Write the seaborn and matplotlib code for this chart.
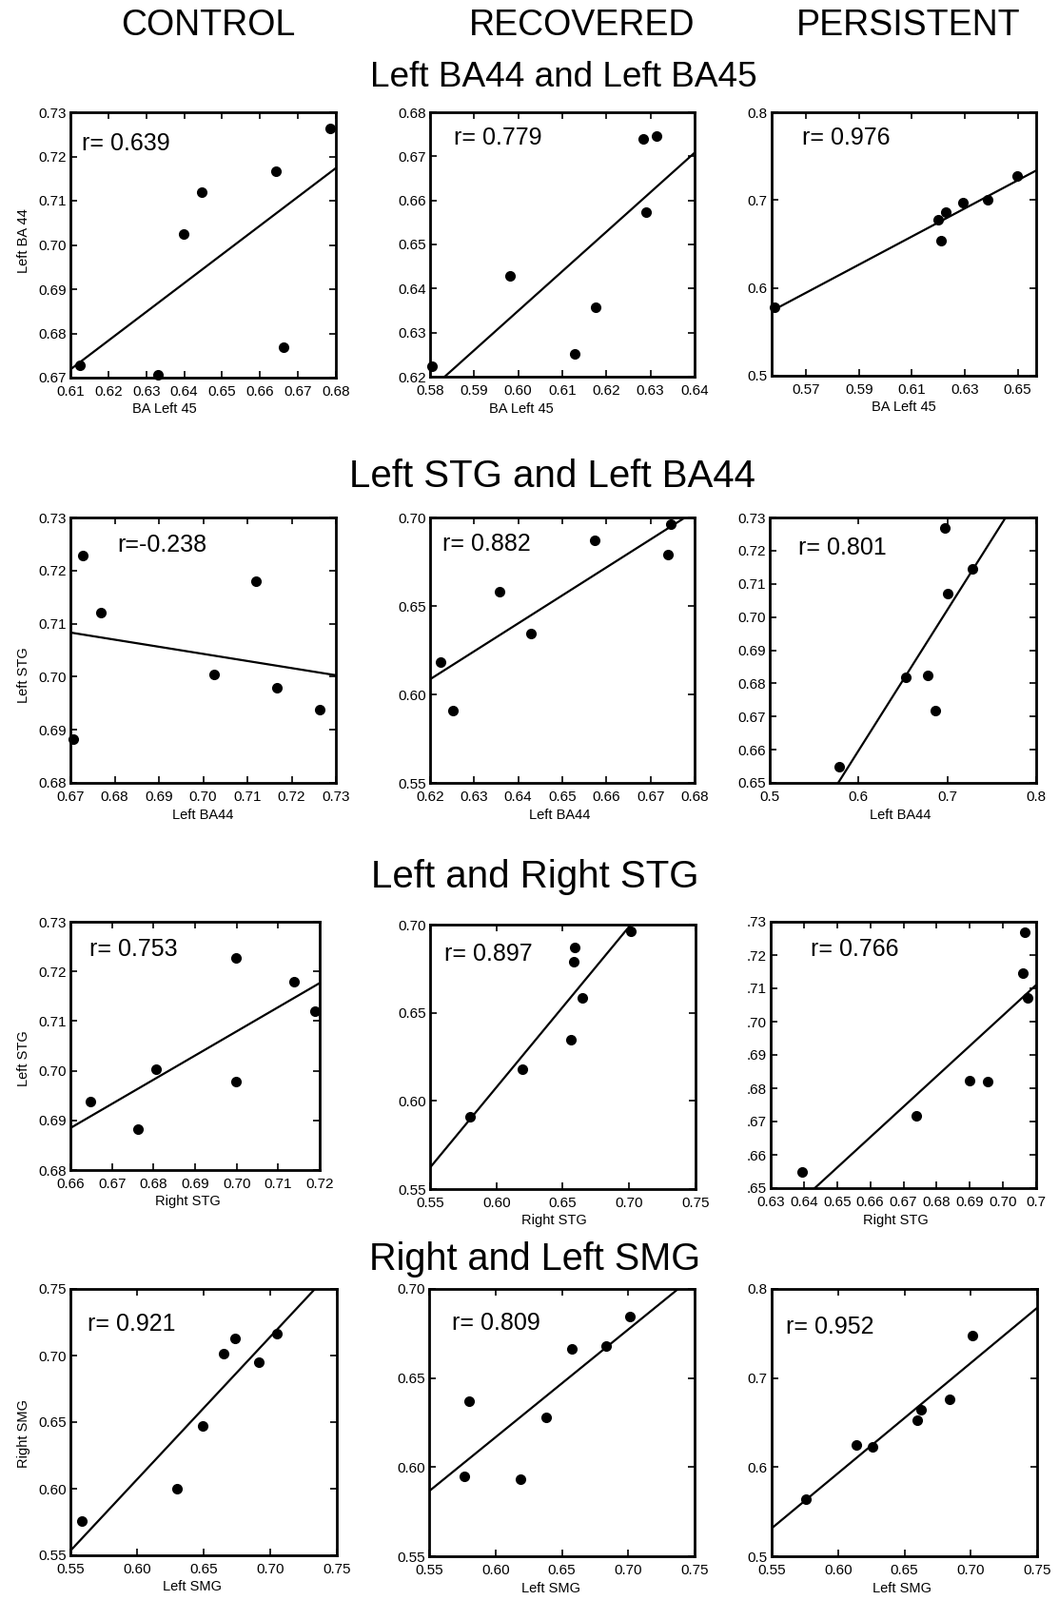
import matplotlib
matplotlib.use("Agg")
import matplotlib.pyplot as plt
import seaborn as sns

# values, one entry per subject
# (BA and STG lists share the subject order inside a group)
ctrl_ba45 = [0.6125, 0.6332, 0.6399, 0.6445, 0.6641, 0.6661, 0.6785]
ctrl_ba44 = [0.6729, 0.6706, 0.7025, 0.7119, 0.7166, 0.6769, 0.7264]
ctrl_lstg = [0.7228, 0.6882, 0.7004, 0.7180, 0.6979, 0.7120, 0.6938]
ctrl_rstg = [0.6998, 0.6763, 0.6807, 0.7139, 0.6998, 0.7188, 0.6647]
ctrl_lsmg = [0.5583, 0.6299, 0.6494, 0.6653, 0.6737, 0.6915, 0.7053]
ctrl_rsmg = [0.5755, 0.6000, 0.6471, 0.7017, 0.7131, 0.6948, 0.7164]

rec_ba45 = [0.5804, 0.5982, 0.6127, 0.6176, 0.6283, 0.6290, 0.6314]
rec_ba44 = [0.6223, 0.6429, 0.6252, 0.6358, 0.6740, 0.6574, 0.6746]
rec_lstg = [0.6182, 0.6345, 0.5911, 0.6582, 0.6788, 0.6869, 0.6960]
rec_rstg = [0.6192, 0.6562, 0.5803, 0.6650, 0.6581, 0.6593, 0.7016]
rec_lsmg = [0.5763, 0.5803, 0.6186, 0.6384, 0.6575, 0.6831, 0.7010]
rec_rsmg = [0.5950, 0.6372, 0.5931, 0.6279, 0.6662, 0.6680, 0.6843]

pers_ba45 = [0.5579, 0.6200, 0.6212, 0.6230, 0.6293, 0.6385, 0.6498]
pers_ba44 = [0.5778, 0.6780, 0.6537, 0.6861, 0.6972, 0.7004, 0.7277]
pers_lstg = [0.6548, 0.6823, 0.6819, 0.6717, 0.7268, 0.7071, 0.7145]
pers_rstg = [0.6395, 0.6900, 0.6955, 0.6740, 0.7067, 0.7074, 0.7060]
pers_lsmg = [0.5760, 0.6138, 0.6262, 0.6599, 0.6628, 0.6838, 0.7015]
pers_rsmg = [0.5644, 0.6253, 0.6231, 0.6525, 0.6639, 0.6765, 0.7474]

groups = ["CONTROL", "RECOVERED", "PERSISTENT"]
row_titles = ["Left BA44 and Left BA45", "Left STG and Left BA44",
              "Left and Right STG", "Right and Left SMG"]
r_labels = [["r= 0.639", "r= 0.779", "r= 0.976"],
            ["r=-0.238", "r= 0.882", "r= 0.801"],
            ["r= 0.753", "r= 0.897", "r= 0.766"],
            ["r= 0.921", "r= 0.809", "r= 0.952"]]

# tick values
t_61_68 = [0.61, 0.62, 0.63, 0.64, 0.65, 0.66, 0.67, 0.68]
t_67_73 = [0.67, 0.68, 0.69, 0.70, 0.71, 0.72, 0.73]
t_58_64 = [0.58, 0.59, 0.60, 0.61, 0.62, 0.63, 0.64]
t_62_68 = [0.62, 0.63, 0.64, 0.65, 0.66, 0.67, 0.68]
t_57_65 = [0.57, 0.59, 0.61, 0.63, 0.65]
t_5_8 = [0.5, 0.6, 0.7, 0.8]
t_68_73 = [0.68, 0.69, 0.70, 0.71, 0.72, 0.73]
t_55_70 = [0.55, 0.60, 0.65, 0.70]
t_65_73 = [0.65, 0.66, 0.67, 0.68, 0.69, 0.70, 0.71, 0.72, 0.73]
t_66_72 = [0.66, 0.67, 0.68, 0.69, 0.70, 0.71, 0.72]
t_55_75 = [0.55, 0.60, 0.65, 0.70, 0.75]
t_63_71 = [0.63, 0.64, 0.65, 0.66, 0.67, 0.68, 0.69, 0.70, 0.71]
# the persistent STG panel shows clipped labels
pers_stg_xlabels = ["0.63", "0.64", "0.65", "0.66", "0.67", "0.68", "0.69", "0.70", "0.7"]
pers_stg_ylabels = [".65", ".66", ".67", ".68", ".69", ".70", ".71", ".72", ".73"]


def f2(ts):
    return [f"{t:.2f}" for t in ts]


def f1(ts):
    return [f"{t:.1f}" for t in ts]


panels = [
    [(ctrl_ba45, ctrl_ba44, (0.61, 0.68), t_61_68, f2(t_61_68), (0.67, 0.73), t_67_73, f2(t_67_73), "BA Left 45", "Left BA 44"),
     (rec_ba45, rec_ba44, (0.58, 0.64), t_58_64, f2(t_58_64), (0.62, 0.68), t_62_68, f2(t_62_68), "BA Left 45", None),
     (pers_ba45, pers_ba44, (0.557, 0.657), t_57_65, f2(t_57_65), (0.5, 0.8), t_5_8, f1(t_5_8), "BA Left 45", None)],
    [(ctrl_ba44, ctrl_lstg, (0.67, 0.73), t_67_73, f2(t_67_73), (0.68, 0.73), t_68_73, f2(t_68_73), "Left BA44", "Left STG"),
     (rec_ba44, rec_lstg, (0.62, 0.68), t_62_68, f2(t_62_68), (0.55, 0.70), t_55_70, f2(t_55_70), "Left BA44", None),
     (pers_ba44, pers_lstg, (0.5, 0.8), t_5_8, f1(t_5_8), (0.65, 0.73), t_65_73, f2(t_65_73), "Left BA44", None)],
    [(ctrl_rstg, ctrl_lstg, (0.66, 0.72), t_66_72, f2(t_66_72), (0.68, 0.73), t_68_73, f2(t_68_73), "Right STG", "Left STG"),
     (rec_rstg, rec_lstg, (0.55, 0.75), t_55_75, f2(t_55_75), (0.55, 0.70), t_55_70, f2(t_55_70), "Right STG", None),
     (pers_rstg, pers_lstg, (0.63, 0.71), t_63_71, pers_stg_xlabels, (0.65, 0.73), t_65_73, pers_stg_ylabels, "Right STG", None)],
    [(ctrl_lsmg, ctrl_rsmg, (0.55, 0.75), t_55_75, f2(t_55_75), (0.55, 0.75), t_55_75, f2(t_55_75), "Left SMG", "Right SMG"),
     (rec_lsmg, rec_rsmg, (0.55, 0.75), t_55_75, f2(t_55_75), (0.55, 0.70), t_55_70, f2(t_55_70), "Left SMG", None),
     (pers_lsmg, pers_rsmg, (0.55, 0.75), t_55_75, f2(t_55_75), (0.5, 0.8), t_5_8, f1(t_5_8), "Left SMG", None)],
]

# layout (pixels of the 1113 x 1682 canvas)
W, H = 1113, 1682
boxes = [[(74, 118, 353, 397), (452, 118, 730, 396), (811, 118, 1089, 395)],
         [(74, 544, 353, 823), (452, 544, 730, 823), (809, 544, 1089, 823)],
         [(74, 969, 336, 1230), (452, 972, 731, 1250), (810, 969, 1089, 1249)],
         [(74, 1355, 354, 1635), (451, 1355, 730, 1636), (811, 1355, 1090, 1636)]]
r_pos = [[(0.043, 0.883), (0.09, 0.903), (0.115, 0.903)],
         [(0.176, 0.896), (0.047, 0.90), (0.107, 0.885)],
         [(0.076, 0.889), (0.054, 0.888), (0.15, 0.896)],
         [(0.064, 0.868), (0.086, 0.872), (0.054, 0.858)]]
xlab_x = [[0.355, 0.345, 0.5], [0.5, 0.49, 0.49], [0.47, 0.466, 0.47], [0.457, 0.46, 0.49]]
ylab_y = [0.515, 0.405, 0.448, 0.457]
col_x = [219, 612, 955]
row_y = [91, 512, 933, 1335]
row_x = [592, 580, 562, 562]
row_size = [26.6, 29, 29, 28.5]

sns.set_style("ticks", {"axes.edgecolor": "black", "xtick.color": "black", "ytick.color": "black",
                        "text.color": "black", "axes.labelcolor": "black",
                        "xtick.direction": "in", "ytick.direction": "in"})
plt.rcParams["font.family"] = ["Liberation Sans", "DejaVu Sans"]

fig = plt.figure(figsize=(W / 100, H / 100), dpi=100)

for i, row in enumerate(panels):
    for j, (xs, ys, xlim, xt, xtl, ylim, yt, ytl, xlabel, ylabel) in enumerate(row):
        x0, y0, x1, y1 = boxes[i][j]
        ax = fig.add_axes([x0 / W, 1 - y1 / H, (x1 - x0) / W, (y1 - y0) / H])
        ax.set_xlim(xlim)
        ax.set_ylim(ylim)
        sns.regplot(x=xs, y=ys, ax=ax, ci=None, truncate=False, color="black",
                    scatter_kws=dict(s=64, alpha=1, linewidths=0, clip_on=False, zorder=4),
                    line_kws=dict(lw=1.6))
        ax.set_xlim(xlim)
        ax.set_ylim(ylim)
        ax.set_xticks(xt, xtl)
        ax.set_yticks(yt, ytl)
        ax.tick_params(direction="in", top=True, right=True, length=5, width=1.2,
                       labelsize=11)
        ax.tick_params(axis="x", pad=6)
        ax.tick_params(axis="y", pad=3)
        for s in ax.spines.values():
            s.set_linewidth(2)
            s.set_color("black")
        ax.set_xlabel(xlabel, fontsize=10.5, x=xlab_x[i][j], labelpad=3)
        if ylabel:
            ax.set_ylabel(ylabel, fontsize=10.5, y=ylab_y[i], labelpad=6)
        ax.text(r_pos[i][j][0], r_pos[i][j][1], r_labels[i][j], transform=ax.transAxes,
                fontsize=18, ha="left", va="center")

for j, g in enumerate(groups):
    fig.text(col_x[j] / W, 1 - 37 / H, g, fontsize=27, ha="center", va="baseline")
for i, t in enumerate(row_titles):
    fig.text(row_x[i] / W, 1 - row_y[i] / H, t, fontsize=row_size[i], ha="center", va="baseline")

fig.savefig("out.png", dpi=100, facecolor="white")
